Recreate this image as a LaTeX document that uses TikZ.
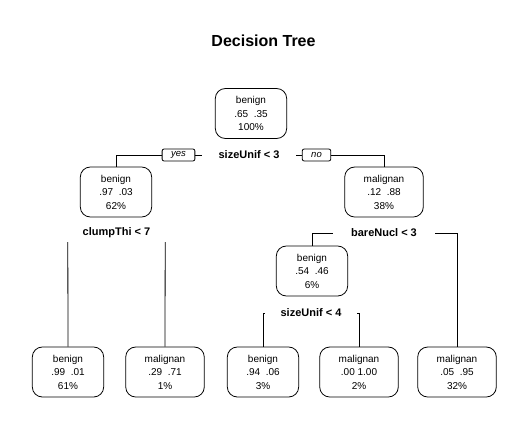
\documentclass[tikz,border=0pt]{standalone}
\usepackage{fontspec}
\setmainfont{Liberation Sans}
\newcommand{\treebox}[3]{%
  \node[treenode] (#1) at (#2) {#3};
}
\newcommand{\splitlabel}[4]{%
  \node[splittext,minimum width=#3] (#1) at (#2) {#4};
}

\begin{document}
\begin{tikzpicture}[x=1pt,y=-1pt,
  treenode/.style={draw,rounded corners=10pt,align=center,
    font=\fontsize{10}{13.5}\selectfont,inner xsep=19pt,inner ysep=0pt,
    minimum height=50pt,line width=0.8pt},
  splittext/.style={inner sep=0pt,minimum height=18pt,
    font=\fontsize{11}{13}\selectfont\bfseries},
  answer/.style={draw,rounded corners=2pt,inner xsep=9pt,inner ysep=0pt,
    minimum height=12pt,font=\fontsize{9.5}{11}\selectfont\itshape,line width=0.8pt},
  branch/.style={line width=0.8pt}]
  \useasboundingbox[fill=white] (0,0) rectangle (529,426);

  \node[font=\fontsize{16}{19}\selectfont\bfseries] (title) at (263.5,41) {Decision Tree};

  \treebox{root}{251,113.5}{benign\\.65~~.35\\100\%}
  \treebox{b1}{116,192}{benign\\.97~~.03\\62\%}
  \treebox{m1}{384,192}{malignan\\.12~~.88\\38\%}
  \treebox{b6}{312,271}{benign\\.54~~.46\\6\%}

  \treebox{l1}{68,372}{benign\\.99~~.01\\61\%}
  \treebox{l2}{165,372}{malignan\\.29~~.71\\1\%}
  \treebox{l3}{263,372}{benign\\.94~~.06\\3\%}
  \treebox{l4}{359,372}{malignan\\.00~1.00\\2\%}
  \treebox{l5}{457,372}{malignan\\.05~~.95\\32\%}

  \splitlabel{s1}{249,155}{94pt}{sizeUnif < 3}
  \splitlabel{s2}{116.5,233}{97pt}{clumpThi < 7}
  \splitlabel{s3}{384,233}{102pt}{bareNucl < 3}
  \splitlabel{s4}{311,313}{92pt}{sizeUnif < 4}

  \node[answer] (yes) at (178.5,155) {yes};
  \node[answer] (no) at (316.5,155) {no};

  \draw[branch] (s1.west) -- (yes.east);
  \draw[branch] (yes.west) -| (b1.north);
  \draw[branch] (s1.east) -- (no.west);
  \draw[branch] (no.east) -| (m1.north);

  \draw[branch] (s2.south west) -- (l1.north);
  \draw[branch] (s2.south east) -- (l2.north);

  \draw[branch] (s3.west) -| (b6.north);
  \draw[branch] (s3.east) -| (l5.north);

  \draw[branch] (s4.west) -| (l3.north);
  \draw[branch] (s4.east) -| (l4.north);
\end{tikzpicture}
\end{document}
